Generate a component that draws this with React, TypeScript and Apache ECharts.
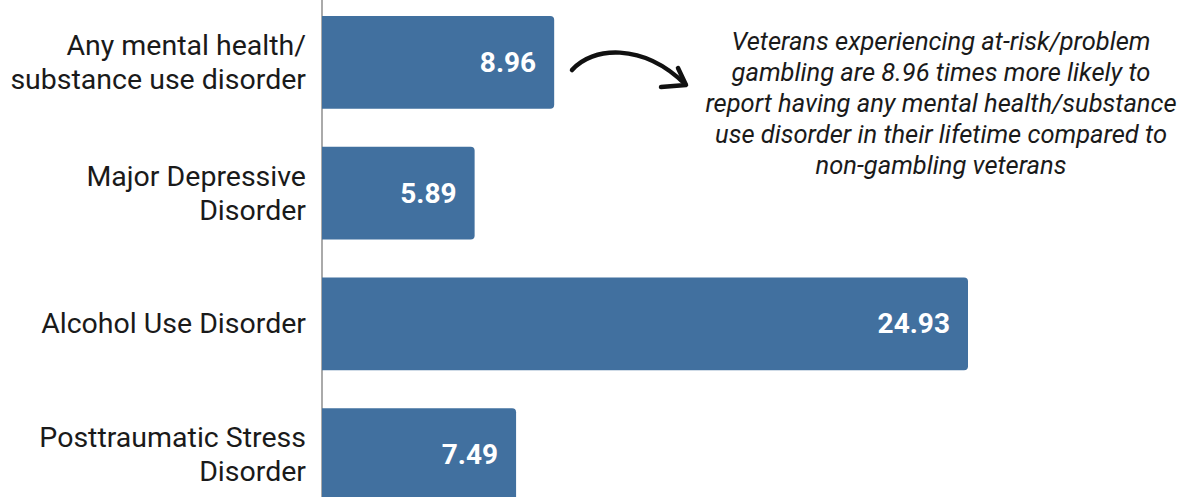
import React, { useEffect, useRef } from "react";
import * as echarts from "echarts";

const categories = [
  "Any mental health/\nsubstance use disorder",
  "Major Depressive\nDisorder",
  "Alcohol Use Disorder",
  "Posttraumatic Stress\nDisorder",
];
const values = [8.96, 5.89, 24.93, 7.49];
const annotation =
  "Veterans experiencing at-risk/problem\ngambling are 8.96 times more likely to\nreport having any mental health/substance\nuse disorder in their lifetime compared to\nnon-gambling veterans";

const SHIFT = 3;

export default function App() {
  const ref = useRef<HTMLDivElement>(null);
  useEffect(() => {
    if (!ref.current) return;
    const chart = echarts.init(ref.current, null, { renderer: "svg" });
    chart.setOption({
      animation: false,
      grid: { left: 322, top: 0, width: 859, height: 523, containLabel: false },
      xAxis: {
        type: "value",
        min: 0,
        max: 33.15,
        show: false,
      },
      yAxis: {
        type: "category",
        data: categories,
        inverse: true,
        axisLine: { show: true, lineStyle: { color: "#aaaaaa", width: 2 } },
        axisTick: { show: false },
        axisLabel: {
          margin: 16,
          color: "#1a1a1a",
          fontFamily: "Roboto",
          fontSize: 28.5,
          lineHeight: 34,
          align: "right",
        },
      },
      series: [
        {
          type: "bar",
          data: values,
          barCategoryGap: "29%",
          itemStyle: { color: "#41709f", borderRadius: [0, 4, 4, 0] },
          label: {
            show: true,
            position: "insideRight",
            distance: 18,
            color: "#ffffff",
            fontFamily: "Roboto",
            fontWeight: "bold",
            fontSize: 28,
          },
        },
      ],
      graphic: [
        {
          type: "text",
          x: 941,
          y: 25 + SHIFT,
          style: {
            text: annotation,
            fill: "#1a1a1a",
            font: "italic 25.5px Roboto",
            align: "center",
            verticalAlign: "top",
            lineHeight: 31,
          },
        },
        {
          type: "bezierCurve",
          shape: {
            x1: 572, y1: 70 + SHIFT,
            cpx1: 592, cpy1: 47 + SHIFT,
            cpx2: 642, cpy2: 42 + SHIFT,
            x2: 685, y2: 84 + SHIFT,
          },
          style: { stroke: "#111", lineWidth: 4.5, fill: null, lineCap: "round" },
        },
        {
          type: "polyline",
          shape: { points: [[678, 68 + SHIFT], [686, 85 + SHIFT], [661, 87 + SHIFT]] },
          style: { stroke: "#111", lineWidth: 4.5, fill: null, lineCap: "round", lineJoin: "round" },
        },
      ],
    });
    return () => chart.dispose();
  }, []);
  return (
    <div
      style={{ position: "fixed", left: 0, top: 0, width: 1181, height: 497, overflow: "hidden", background: "#fff" }}
    >
      <div
        ref={ref}
        style={{ position: "absolute", left: 0, top: -SHIFT, width: 1181, height: 530 }}
      />
    </div>
  );
}
